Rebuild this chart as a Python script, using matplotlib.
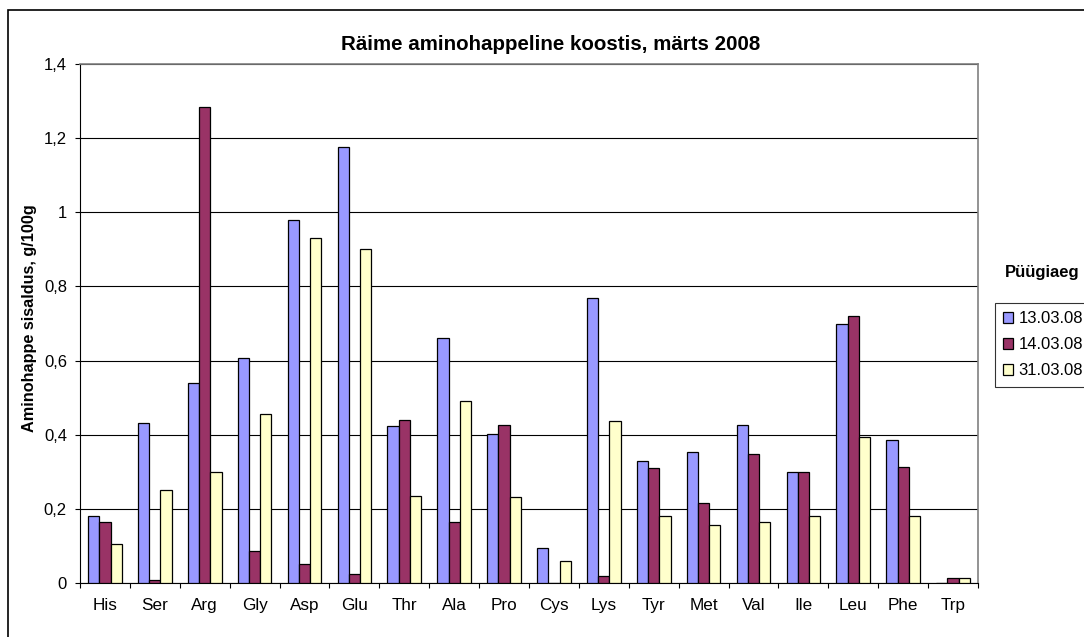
import matplotlib
matplotlib.use("Agg")
import matplotlib.pyplot as plt
import numpy as np
from matplotlib.patches import Rectangle

plt.rcParams["font.family"] = ["Liberation Sans", "DejaVu Sans"]

categories = ["His", "Ser", "Arg", "Gly", "Asp", "Glu", "Thr", "Ala", "Pro",
              "Cys", "Lys", "Tyr", "Met", "Val", "Ile", "Leu", "Phe", "Trp"]
s_130308 = [0.182, 0.431, 0.540, 0.607, 0.978, 1.176, 0.424, 0.661, 0.402,
            0.095, 0.770, 0.329, 0.354, 0.427, 0.300, 0.700, 0.385, 0.0]
s_140308 = [0.165, 0.008, 1.285, 0.085, 0.052, 0.025, 0.441, 0.165, 0.427,
            0.0, 0.020, 0.310, 0.215, 0.349, 0.300, 0.720, 0.314, 0.014]
s_310308 = [0.106, 0.251, 0.300, 0.455, 0.931, 0.900, 0.236, 0.491, 0.233,
            0.059, 0.437, 0.180, 0.156, 0.165, 0.180, 0.395, 0.182, 0.014]
series_names = ["13.03.08", "14.03.08", "31.03.08"]
colors = ["#9999FF", "#993366", "#FFFFCC"]
yticks = [0, 0.2, 0.4, 0.6, 0.8, 1.0, 1.2, 1.4]
ytick_labels = ["0", "0,2", "0,4", "0,6", "0,8", "1", "1,2", "1,4"]

W, H = 1084, 637
fig = plt.figure(figsize=(W / 100, H / 100), dpi=100)
# raami joon ümber kogu diagrammi
fig.patches.append(Rectangle((8 / W, -0.05), 1, 1 - 10 / H + 0.05, transform=fig.transFigure,
                             fill=False, edgecolor="black", linewidth=1.2))

# joonise ala: x 80..978, y 64..583 pikslit
ax = fig.add_axes([80 / W, (H - 583) / H, 898 / W, 519 / H])
x = np.arange(len(categories))
w = 0.225
for i, (vals, col, name) in enumerate(zip([s_130308, s_140308, s_310308], colors, series_names)):
    ax.bar(x + (i - 1) * w, vals, width=w, color=col, edgecolor="black",
           linewidth=0.9, label=name, zorder=3)

ax.set_xlim(-0.5, len(categories) - 0.5)
ax.set_ylim(0, 1.4)
ax.set_yticks(yticks)
ax.set_yticklabels(ytick_labels, fontsize=12)
ax.set_xticks(x)
ax.set_xticklabels(categories, fontsize=12.3)
ax.tick_params(axis="x", length=0, pad=11)
ax.set_xticks(np.arange(-0.5, len(categories)), minor=True)
ax.tick_params(axis="x", which="minor", length=3.6, direction="out", width=0.8)
ax.tick_params(axis="y", length=3.6, direction="out", width=0.8, pad=5.8)
ax.grid(True, axis="y", color="black", linewidth=0.8, zorder=0)
for side in ["top", "right"]:
    ax.spines[side].set_color("#808080")
    ax.spines[side].set_linewidth(1.2)

fig.text(551 / W, 1 - 44 / H, "Räime aminohappeline koostis, märts 2008",
         fontsize=14.8, fontweight="bold", ha="center", va="center")
fig.text(30 / W, 1 - 318 / H, "Aminohappe sisaldus, g/100g", fontsize=11.7,
         fontweight="bold", rotation=90, ha="center", va="center")

fig.text(1042 / W, 1 - 272 / H, "Püügiaeg", fontsize=12, fontweight="bold",
         ha="center", va="center")
leg = fig.legend(loc="upper left", bbox_to_anchor=(995 / W, 1 - 303 / H),
                 frameon=True, fancybox=False, edgecolor="black", fontsize=12,
                 handlelength=0.6, handleheight=0.6, handletextpad=0.3,
                 borderpad=0.5, labelspacing=0.66, borderaxespad=0)
leg.get_frame().set_linewidth(0.8)

fig.savefig("out.png", dpi=100)
